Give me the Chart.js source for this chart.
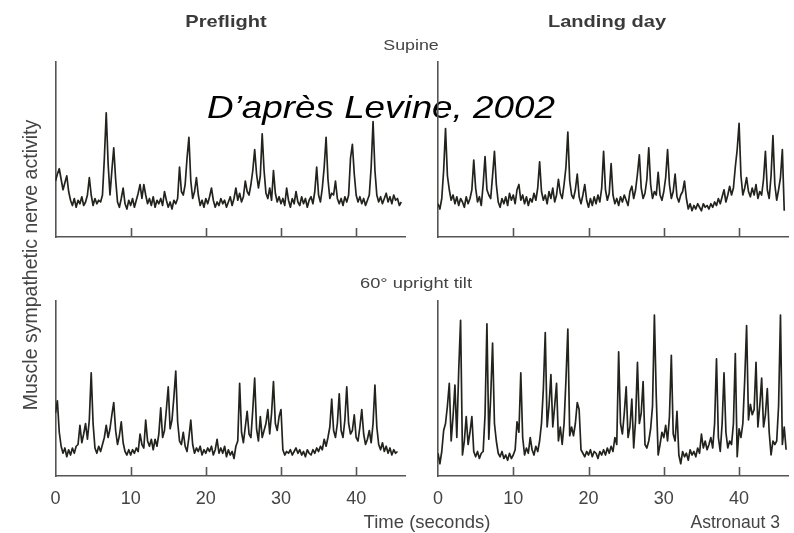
<!DOCTYPE html>
<html>
<head>
<meta charset="utf-8">
<script src="https://cdn.jsdelivr.net/npm/chart.js@4.4.1/dist/chart.umd.min.js"></script>
<style>
  body { margin: 0; background: #fff; }
  #wrap { position: relative; width: 794px; height: 533px; }
  canvas { position: absolute; left: 0; top: 0; }
</style>
</head>
<body>
<div id="wrap">
  <canvas id="c1" width="794" height="533"></canvas>
  <canvas id="c2" width="794" height="533"></canvas>
  <canvas id="c3" width="794" height="533"></canvas>
  <canvas id="c4" width="794" height="533"></canvas>
</div>
<script>
// samples every 0.25 s, values in % of the axis height
const STEP = 0.25;
const X_MAX = 46.5;
const xTicks = [0, 10, 20, 30, 40];

const preflightSupine = [
  32, 36, 39, 33,  27, 31, 35, 26,
  21, 18, 22, 17,  21, 19, 23, 18,
  20, 24, 34, 24,  18, 22, 19, 21,
  20, 24, 45, 71,  42, 24, 38, 51,
  33, 20, 17, 22,  28, 19, 16, 21,
  18, 22, 17, 21,  25, 30, 22, 30,
  24, 19, 22, 18,  23, 17, 21, 19,
  22, 18, 26, 21,  17, 20, 16, 21,
  19, 22, 40, 26,  24, 30, 45, 57,
  32, 22, 26, 34,  24, 18, 21, 17,
  22, 19, 23, 28,  21, 17, 20, 18,
  22, 19, 21, 17,  20, 23, 18, 22,
  28, 21, 25, 20,  23, 32, 26, 24,
  30, 38, 50, 36,  28, 35, 59, 38,
  25, 22, 28, 21,  38, 25, 20, 23,
  19, 22, 18, 28,  21, 17, 22, 19,
  26, 20, 18, 23,  19, 22, 17, 21,
  23, 19, 26, 40,  24, 20, 28, 40,
  57, 33, 22, 25,  24, 32, 22, 19,
  22, 18, 23, 20,  24, 45, 53, 36,
  24, 20, 23, 19,  22, 18, 21, 24,
  40, 66, 38, 24,  20, 23, 19, 22,
  25, 20, 23, 19,  24, 21, 22, 18,
  20
];

const landingSupine = [
  19, 16, 22, 38,  62, 35, 27, 21,
  24, 19, 23, 18,  22, 20, 17, 23,
  19, 22, 27, 44,  28, 20, 23, 18,
  30, 46, 27, 24,  22, 35, 49, 30,
  20, 17, 22, 19,  23, 18, 25, 21,
  24, 19, 27, 30,  21, 24, 19, 23,
  18, 22, 20, 25,  21, 28, 43, 26,
  21, 24, 19, 26,  22, 28, 20, 24,
  33, 25, 22, 30,  40, 60, 32, 24,
  22, 27, 36, 23,  19, 24, 30, 21,
  17, 22, 18, 23,  19, 24, 20, 28,
  49, 27, 21, 25,  42, 24, 19, 22,
  18, 23, 20, 24,  21, 18, 26, 29,
  22, 27, 36, 47,  28, 22, 25, 33,
  51, 30, 22, 26,  24, 37, 24, 21,
  26, 34, 50, 30,  22, 26, 36, 23,
  20, 24, 26, 32,  22, 16, 19, 15,
  18, 16, 19, 17,  15, 19, 17, 18,
  16, 19, 17, 20,  18, 22, 19, 23,
  27, 20, 24, 29,  24, 28, 40, 50,
  65, 35, 24, 28,  34, 26, 23, 28,
  24, 30, 22, 26,  24, 33, 49, 27,
  22, 35, 58, 30,  21, 27, 34, 50,
  15
];

const preflightTilt = [
  36, 43, 25, 17,  13, 16, 11, 15,
  12, 16, 13, 17,  18, 29, 19, 24,
  30, 21, 32, 59,  30, 16, 13, 17,
  14, 18, 22, 29,  22, 27, 35, 42,
  26, 18, 23, 31,  19, 14, 12, 15,
  12, 15, 13, 16,  14, 24, 18, 16,
  32, 20, 17, 21,  15, 21, 17, 24,
  39, 22, 26, 38,  51, 27, 32, 45,
  60, 31, 20, 18,  25, 17, 14, 22,
  32, 18, 13, 16,  14, 17, 12, 15,
  13, 16, 14, 17,  12, 15, 21, 13,
  16, 13, 17, 11,  15, 12, 14, 10,
  17, 20, 53, 25,  19, 28, 37, 24,
  22, 38, 56, 27,  20, 34, 22, 26,
  30, 38, 24, 36,  54, 30, 26, 34,
  38, 15, 12, 14,  13, 15, 12, 14,
  16, 13, 15, 12,  14, 11, 15, 13,
  12, 15, 13, 16,  14, 17, 15, 21,
  17, 22, 28, 44,  26, 22, 30, 47,
  26, 22, 32, 51,  30, 24, 26, 35,
  22, 20, 28, 38,  24, 18, 21, 26,
  19, 30, 52, 28,  18, 15, 19, 14,
  17, 13, 16, 12,  15, 13, 14
];

const landingTilt = [
  13,  7, 14, 26,  30, 40, 53, 20,
  34, 52, 22, 60,  89, 12, 20, 34,
  18, 25, 34, 14,  11, 14, 10, 13,
  14, 35, 87, 21,  45, 76, 30, 20,
  13, 11, 14, 10,  12,  9, 13, 10,
  12, 15, 31, 25,  59, 22, 12, 16,
  13, 22, 15, 12,  17, 14, 20, 30,
  50, 82, 28, 40,  58, 28, 40, 53,
  20, 28, 18, 30,  55, 84, 23, 28,
  23, 30, 42, 38,  15, 13, 11, 14,
  12, 15, 11, 14,  13, 10, 14, 12,
  15, 12, 16, 13,  17, 14, 22, 18,
  71, 30, 24, 36,  51, 22, 28, 44,
  16, 32, 65, 30,  36, 54, 18, 16,
  20, 27, 40, 92,  45, 12, 18, 25,
  22, 29, 20, 34,  69, 24, 20, 37,
  12,  7, 14, 11,  13,  9, 15, 12,
  14, 11, 16, 13,  24, 16, 20, 15,
  18, 22, 16, 30,  67, 22, 14, 30,
  59, 25, 16, 20,  18, 30, 70, 11,
  27, 22, 30, 55,  86, 32, 41, 35,
  38, 65, 28, 40,  56, 28, 35, 50,
  25, 12, 20, 18,  20, 40, 92, 18,
  28, 15
];

const W = 794, H = 533;
const LABEL_BAND = 40;
const AXIS = '#555';
const TRACE = '#23231e';
const FONT = "'Liberation Sans', Arial, sans-serif";

// x ticks go up into the plot, not down
const innerTicks = {
  id: 'innerTicks',
  afterDraw(chart) {
    const { ctx, chartArea } = chart;
    const x = chart.scales.x;
    ctx.save();
    ctx.strokeStyle = AXIS;
    ctx.lineWidth = 1.6;
    x.ticks.forEach(t => {
      if (t.value <= 0) return;
      const px = Math.round(x.getPixelForValue(t.value)) + 0.5;
      ctx.beginPath();
      ctx.moveTo(px, chartArea.bottom);
      ctx.lineTo(px, chartArea.bottom - 9);
      ctx.stroke();
    });
    ctx.restore();
  }
};

function txt(ctx, s, x, y, font, color, align, sx) {
  ctx.save();
  ctx.translate(x, y);
  ctx.scale(sx || 1, 1);
  ctx.font = font;
  ctx.fillStyle = color;
  ctx.textAlign = align || 'center';
  ctx.textBaseline = 'alphabetic';
  ctx.fillText(s, 0, 0);
  ctx.restore();
}

const captions = {
  id: 'captions',
  afterDraw(chart) {
    const ctx = chart.ctx;
    txt(ctx, 'Preflight', 226, 27, 'bold 17px ' + FONT, '#3a3a3a', 'center', 1.18);
    txt(ctx, 'Landing day', 607, 27, 'bold 17px ' + FONT, '#3a3a3a', 'center', 1.18);
    txt(ctx, 'Supine', 411, 50, '15.5px ' + FONT, '#444', 'center', 1.15);
    txt(ctx, '60° upright tilt', 416, 288, '15.5px ' + FONT, '#444', 'center', 1.18);
    txt(ctx, 'Time (seconds)', 427, 528, '18.5px ' + FONT, '#444', 'center');
    txt(ctx, 'Astronaut 3', 780, 528, '17.5px ' + FONT, '#444', 'right');
    txt(ctx, 'D’après Levine, 2002', 381, 118, 'italic 32px ' + FONT, '#000', 'center', 1.15);
    ctx.save();
    ctx.translate(37, 265);
    ctx.rotate(-Math.PI / 2);
    ctx.font = '19.5px ' + FONT;
    ctx.fillStyle = '#444';
    ctx.textAlign = 'center';
    ctx.fillText('Muscle sympathetic nerve activity', 0, 0);
    ctx.restore();
  }
};

function panel(id, values, area, labels, extra) {
  const band = labels ? LABEL_BAND : 0;
  new Chart(document.getElementById(id), {
    type: 'line',
    data: {
      datasets: [{
        data: values.map((v, i) => ({ x: i * STEP, y: v })),
        borderColor: TRACE,
        borderWidth: 1.7,
        borderJoinStyle: 'round',
        pointRadius: 0,
        tension: 0,
      }]
    },
    options: {
      responsive: false,
      animation: false,
      layout: {
        padding: { left: area[0], top: area[1], right: W - area[2], bottom: H - area[3] - band }
      },
      plugins: { legend: { display: false }, tooltip: { enabled: false } },
      scales: {
        x: {
          type: 'linear',
          min: 0,
          max: X_MAX,
          afterFit: s => { s.height = band; },
          afterBuildTicks: s => { s.ticks = xTicks.map(v => ({ value: v })); },
          grid: { drawOnChartArea: false, drawTicks: false },
          border: { color: AXIS, width: 1.6 },
          ticks: {
            display: labels,
            autoSkip: false,
            maxRotation: 0,
            padding: 12,
            color: '#444',
            font: { family: FONT, size: 18 },
          }
        },
        y: {
          min: 0,
          max: 100,
          afterFit: s => { s.width = 0; },
          grid: { drawOnChartArea: false, drawTicks: false },
          border: { color: AXIS, width: 1.6 },
          ticks: { display: false }
        }
      }
    },
    plugins: extra ? [innerTicks, extra] : [innerTicks]
  });
}

panel('c1', preflightSupine, [55.5, 62, 405, 237], false, captions);
panel('c2', landingSupine, [438, 62, 788, 237], false);
panel('c3', preflightTilt, [55.5, 301, 405, 476], true);
panel('c4', landingTilt, [438, 301, 788, 476], true);
</script>
</body>
</html>
